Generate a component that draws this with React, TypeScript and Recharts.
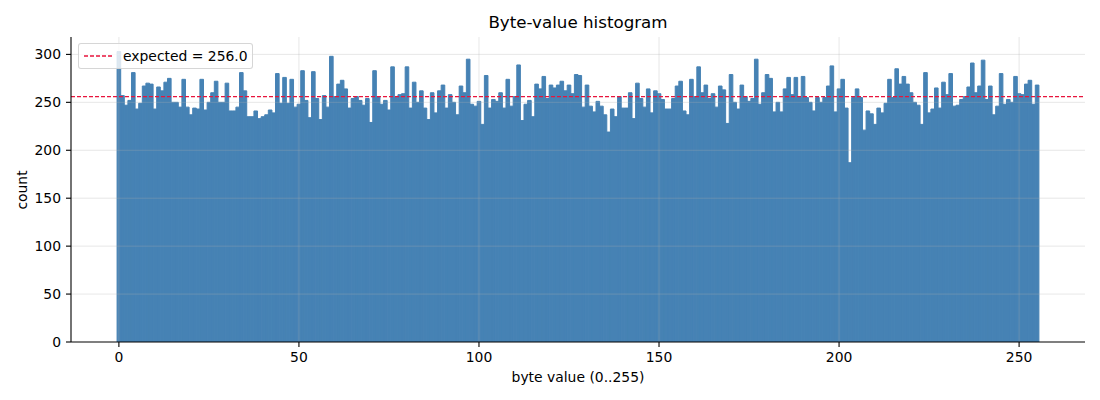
import React from "react";
import {
  ComposedChart,
  Bar,
  XAxis,
  YAxis,
  ReferenceLine,
} from "recharts";

// counts per byte value
const counts = [
  303, 257, 247, 252, 281, 243, 249, 267, 270, 269, 243, 266, 262, 271, 275, 250,
  250, 245, 274, 245, 237, 244, 243, 274, 242, 250, 260, 272, 250, 250, 270, 241,
  241, 245, 281, 262, 235, 235, 241, 233, 235, 237, 242, 239, 280, 249, 276, 249,
  274, 245, 248, 283, 252, 234, 282, 254, 232, 257, 245, 298, 256, 269, 273, 264,
  244, 254, 256, 252, 247, 254, 229, 283, 256, 248, 252, 242, 287, 255, 258, 259,
  287, 244, 271, 250, 262, 244, 232, 260, 239, 262, 268, 244, 258, 250, 237, 267,
  260, 295, 248, 246, 251, 227, 278, 244, 253, 251, 260, 244, 274, 246, 256, 289,
  231, 248, 252, 235, 269, 264, 277, 254, 268, 265, 268, 272, 262, 268, 259, 279,
  278, 245, 268, 246, 240, 251, 246, 237, 219, 243, 235, 256, 244, 244, 260, 233,
  270, 254, 245, 264, 239, 262, 259, 253, 243, 243, 254, 267, 272, 241, 237, 274,
  256, 287, 260, 268, 254, 259, 245, 267, 263, 228, 279, 250, 243, 268, 256, 251,
  254, 295, 248, 260, 279, 275, 240, 250, 240, 264, 276, 258, 276, 255, 277, 255,
  250, 241, 255, 250, 255, 267, 288, 240, 264, 274, 244, 187, 255, 264, 255, 221,
  241, 238, 227, 244, 239, 249, 274, 255, 285, 269, 277, 269, 260, 250, 247, 227,
  281, 239, 243, 265, 244, 271, 258, 280, 246, 247, 253, 256, 266, 291, 260, 267,
  294, 253, 267, 237, 246, 280, 248, 253, 250, 277, 259, 258, 269, 273, 248, 268,
];
const byteValues = counts.map((_, i) => i);
const xTicks = [0, 50, 100, 150, 200, 250];
const yTicks = [0, 50, 100, 150, 200, 250, 300];
const expected = 256.0;

const data = byteValues.map((b, i) => ({ byte: b, count: counts[i] }));

const FONT = "DejaVu Sans";
const tickStyle = { fill: "#000", fontSize: 13.9, fontFamily: FONT };
const gridStroke = "#b0b0b0";
const expectedColor = "#e8143c";

export default function App() {
  return (
    <div style={{ position: "relative", width: 1100, height: 400, background: "#fff" }}>
      <style>{`body { margin: 0; }`}</style>
      <ComposedChart
        width={1100}
        height={400}
        data={data}
        margin={{ top: 37, right: 15, bottom: 0, left: 0 }}
      >
        <XAxis
          type="number"
          dataKey="byte"
          domain={[-13.3, 268.3]}
          ticks={xTicks}
          allowDataOverflow
          height={58}
          tick={tickStyle}
          tickSize={5}
          tickMargin={5}
          axisLine={{ stroke: "#000", strokeWidth: 1.1 }}
          tickLine={{ stroke: "#000", strokeWidth: 1.1 }}
        />
        <YAxis
          type="number"
          domain={[0, 318.15]}
          ticks={yTicks}
          allowDataOverflow
          width={71}
          tick={tickStyle}
          tickSize={5}
          tickMargin={5}
          axisLine={{ stroke: "#000", strokeWidth: 1.1 }}
          tickLine={{ stroke: "#000", strokeWidth: 1.1 }}
        />
        <Bar
          dataKey="count"
          fill="#4682b4"
          stroke="#4682b4"
          strokeWidth={1}
          barSize={3.6}
          isAnimationActive={false}
        />
        {xTicks.map((t) => (
          <ReferenceLine key={`gx-${t}`} x={t} stroke={gridStroke} strokeOpacity={0.3} strokeWidth={1} />
        ))}
        {yTicks.slice(1).map((t) => (
          <ReferenceLine key={`gy-${t}`} y={t} stroke={gridStroke} strokeOpacity={0.3} strokeWidth={1} />
        ))}
        <ReferenceLine
          y={expected}
          stroke={expectedColor}
          strokeWidth={1.4}
          strokeDasharray="4 2"
        />
      </ComposedChart>

      <svg
        width={1100}
        height={400}
        style={{ position: "absolute", left: 0, top: 0, pointerEvents: "none" }}
      >
        <text x={578} y={28} textAnchor="middle" fontFamily={FONT} fontSize={16.7} fill="#000">
          Byte-value histogram
        </text>
        <text x={578} y={382} textAnchor="middle" fontFamily={FONT} fontSize={13.9} fill="#000">
          byte value (0..255)
        </text>
        <text
          x={27}
          y={190}
          textAnchor="middle"
          fontFamily={FONT}
          fontSize={13.9}
          fill="#000"
          transform="rotate(-90, 27, 190)"
        >
          count
        </text>
      </svg>

      <div
        style={{
          position: "absolute",
          left: 78,
          top: 43,
          width: 175,
          height: 26,
          boxSizing: "border-box",
          border: "1px solid rgba(204,204,204,0.8)",
          borderRadius: 3,
          background: "rgba(255,255,255,0.8)",
          display: "flex",
          alignItems: "center",
          fontFamily: FONT,
          fontSize: 13.9,
          color: "#000",
        }}
      >
        <svg width={28} height={4} style={{ marginLeft: 5, marginRight: 11 }}>
          <line x1={0} y1={2} x2={28} y2={2} stroke={expectedColor} strokeWidth={1.4} strokeDasharray="4 2" />
        </svg>
        <span>expected = {expected.toFixed(1)}</span>
      </div>
    </div>
  );
}
